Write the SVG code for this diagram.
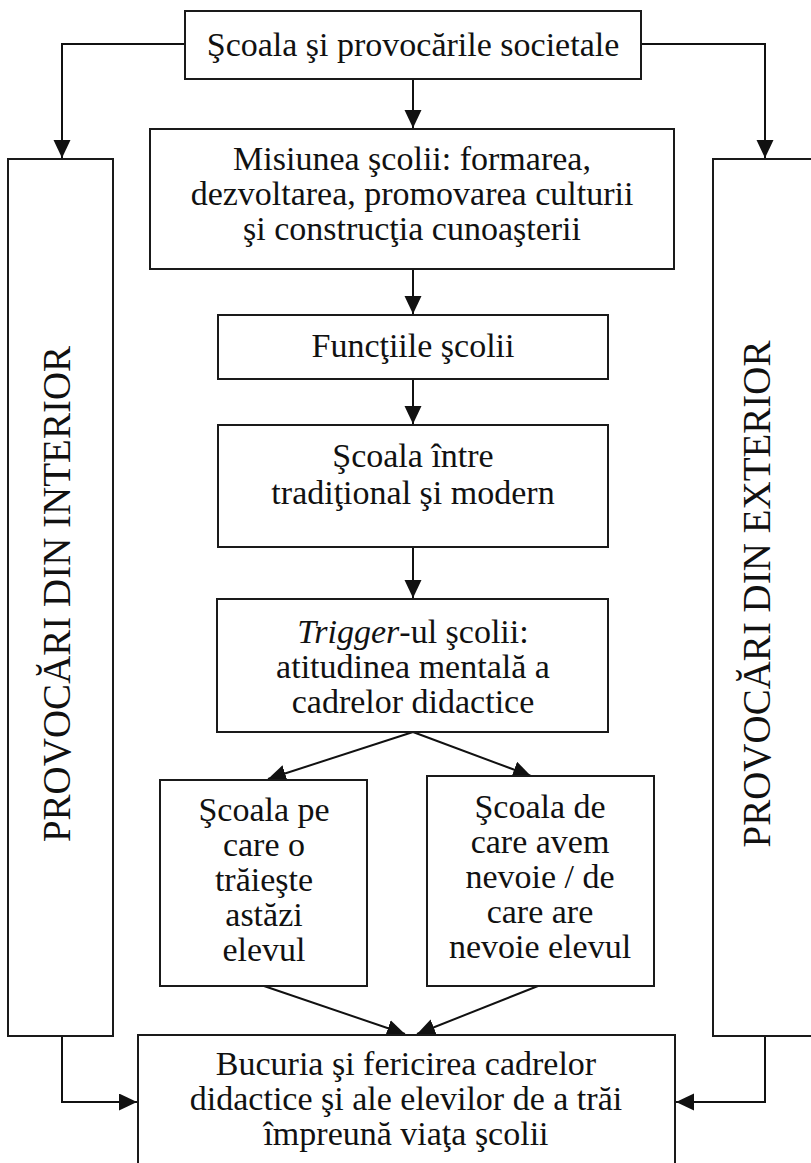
<svg xmlns="http://www.w3.org/2000/svg" width="811" height="1163" viewBox="0 0 811 1163">
<style>
.box{fill:#fff;stroke:#1a1a1a;stroke-width:2}
.t{font-family:"Liberation Serif","Times New Roman",serif;font-size:34px;fill:#111;text-anchor:middle}
.v{font-family:"Liberation Serif","Times New Roman",serif;font-size:39px;fill:#111;text-anchor:middle}
.ln{fill:none;stroke:#111;stroke-width:2}
</style>
<defs>
<marker id="ah" markerUnits="userSpaceOnUse" markerWidth="19" markerHeight="18" refX="18" refY="8.5" orient="auto">
<path d="M0,0 L18,8.5 L0,17 z" fill="#111"/>
</marker>
</defs>
<rect width="811" height="1163" fill="#fff"/>
<g id="connectors">
<path class="ln" d="M185,44 H62 V158" marker-end="url(#ah)"/>
<path class="ln" d="M641,44 H765 V158" marker-end="url(#ah)"/>
<path class="ln" d="M413,79 V128" marker-end="url(#ah)"/>
<path class="ln" d="M413,269 V314" marker-end="url(#ah)"/>
<path class="ln" d="M413,379 V424" marker-end="url(#ah)"/>
<path class="ln" d="M413,547 V598" marker-end="url(#ah)"/>
<path class="ln" d="M413,732 L268,779" marker-end="url(#ah)"/>
<path class="ln" d="M413,732 L531,776" marker-end="url(#ah)"/>
<path class="ln" d="M264,986 L405,1034" marker-end="url(#ah)"/>
<path class="ln" d="M538,986 L417,1034" marker-end="url(#ah)"/>
<path class="ln" d="M62,1036 V1102 H137" marker-end="url(#ah)"/>
<path class="ln" d="M765,1036 V1102 H676" marker-end="url(#ah)"/>
</g>
<g id="top">
<rect class="box" x="185" y="11" width="456" height="68"/>
<text class="t" x="413" y="56">Şcoala şi provocările societale</text>
</g>
<g id="misiunea">
<rect class="box" x="150" y="129" width="524" height="140"/>
<text class="t" x="412" y="170">Misiunea şcolii: formarea,</text>
<text class="t" x="412" y="205">dezvoltarea, promovarea culturii</text>
<text class="t" x="412" y="240">şi construcţia cunoaşterii</text>
</g>
<g id="functiile">
<rect class="box" x="218" y="315" width="390" height="64"/>
<text class="t" x="413" y="357">Funcţiile şcolii</text>
</g>
<g id="intre">
<rect class="box" x="218" y="425" width="390" height="122"/>
<text class="t" x="413" y="467">Şcoala între</text>
<text class="t" x="413" y="504">tradiţional şi modern</text>
</g>
<g id="trigger">
<rect class="box" x="217" y="599" width="391" height="133"/>
<text class="t" x="413" y="643"><tspan font-style="italic">Trigger</tspan>-ul şcolii:</text>
<text class="t" x="413" y="678">atitudinea mentală a</text>
<text class="t" x="413" y="713">cadrelor didactice</text>
</g>
<g id="traieste">
<rect class="box" x="160" y="780" width="207" height="206"/>
<text class="t" x="264" y="821">Şcoala pe</text>
<text class="t" x="264" y="856">care o</text>
<text class="t" x="264" y="891">trăieşte</text>
<text class="t" x="264" y="926">astăzi</text>
<text class="t" x="264" y="961">elevul</text>
</g>
<g id="nevoie">
<rect class="box" x="427" y="776" width="227" height="210"/>
<text class="t" x="540" y="818">Şcoala de</text>
<text class="t" x="540" y="853">care avem</text>
<text class="t" x="540" y="888">nevoie / de</text>
<text class="t" x="540" y="923">care are</text>
<text class="t" x="540" y="958">nevoie elevul</text>
</g>
<g id="interior">
<rect class="box" x="8" y="159" width="105" height="877"/>
<text class="v" transform="translate(70,594) rotate(-90)">PROVOCĂRI DIN INTERIOR</text>
</g>
<g id="exterior">
<rect class="box" x="713" y="159" width="104" height="877"/>
<text class="v" transform="translate(770,594) rotate(-90)">PROVOCĂRI DIN EXTERIOR</text>
</g>
<g id="bucuria">
<rect class="box" x="138" y="1035" width="537" height="140"/>
<text class="t" x="406" y="1075">Bucuria şi fericirea cadrelor</text>
<text class="t" x="406" y="1110">didactice şi ale elevilor de a trăi</text>
<text class="t" x="406" y="1145">împreună viaţa şcolii</text>
</g>
</svg>
